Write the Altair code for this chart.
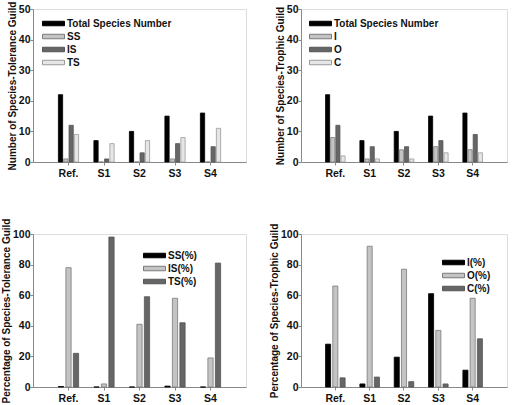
import altair as alt
import pandas as pd

categories = ["Ref.", "S1", "S2", "S3", "S4"]

# Panel A: number of species by tolerance guild
tol_names = ["Total Species Number", "SS", "IS", "TS"]
tol_total = [22, 7, 10, 15, 16]
tol_ss = [1, 0, 0, 1, 0]
tol_is = [12, 1, 3, 6, 5]
tol_ts = [9, 6, 7, 8, 11]

# Panel B: number of species by trophic guild
tro_names = ["Total Species Number", "I", "O", "C"]
tro_total = [22, 7, 10, 15, 16]
tro_i = [8, 1, 4, 5, 4]
tro_o = [12, 5, 5, 7, 9]
tro_c = [2, 1, 1, 3, 3]

# Panel C: percentage by tolerance guild
tolp_names = ["SS(%)", "IS(%)", "TS(%)"]
tolp_ss = [0.3, 0, 0, 0.6, 0]
tolp_is = [78, 2, 41, 58, 19]
tolp_ts = [22, 98, 59, 42, 81]

# Panel D: percentage by trophic guild
trop_names = ["I(%)", "O(%)", "C(%)"]
trop_i = [28, 2, 19.5, 61, 11]
trop_o = [66, 92, 77, 37, 58]
trop_c = [6, 6.5, 3.5, 2, 31.5]

BLACK = "#000000"
LIGHT = "#c4c4c4"
DARK = "#666666"
PALE = "#e6e6e6"
FONT = "Liberation Sans"


def make_df(names, lists):
    rows = []
    for name, vals in zip(names, lists):
        for c, v in zip(categories, vals):
            rows.append({"cat": c, "series": name, "value": v})
    return pd.DataFrame(rows)


BAR_PATH = "M-2.2,-0.45H2.2V0.45H-2.2Z"


def panel(df, names, fills, strokes, ytitle, ymax, ystep, width, height,
          lx, ly, n_series):
    leg = alt.Legend(
        orient="none", legendX=lx, legendY=ly, title=None,
        symbolType=BAR_PATH, symbolSize=100, symbolStrokeWidth=1,
        labelFont=FONT, labelFontSize=10, labelFontWeight="bold",
        labelColor="#111111", labelOffset=8, rowPadding=2,
    )
    inner = 0.2 if n_series == 4 else 0.3
    return alt.Chart(df).mark_bar(strokeWidth=0.8).encode(
        x=alt.X("cat:N", sort=categories, title=None,
                scale=alt.Scale(paddingInner=0.43, paddingOuter=0.715),
                axis=alt.Axis(labelAngle=0, labelFont=FONT, labelFontSize=10.5,
                              labelFontWeight="bold", labelColor="#111111",
                              tickSize=3, tickColor="#888888",
                              domainColor="#888888", labelPadding=3,
                              grid=False)),
        xOffset=alt.XOffset("series:N", sort=names,
                            scale=alt.Scale(domain=names, paddingInner=inner)),
        y=alt.Y("value:Q", scale=alt.Scale(domain=[0, ymax], nice=False),
                axis=alt.Axis(values=list(range(0, ymax + 1, ystep)),
                              title=ytitle, titleFont=FONT, titleFontSize=10,
                              titleFontWeight="bold", titleColor="#111111",
                              titlePadding=1,
                              labelFont=FONT, labelFontSize=10.5,
                              labelFontWeight="bold", labelColor="#111111",
                              tickSize=3, tickColor="#888888",
                              domainColor="#888888", labelPadding=0,
                              grid=False)),
        fill=alt.Fill("series:N", sort=names,
                      scale=alt.Scale(domain=names, range=fills), legend=leg),
        stroke=alt.Stroke("series:N", sort=names,
                          scale=alt.Scale(domain=names, range=strokes),
                          legend=leg),
    ).properties(width=width, height=height)


pA = panel(make_df(tol_names, [tol_total, tol_ss, tol_is, tol_ts]), tol_names,
           [BLACK, LIGHT, DARK, PALE], ["#000000", "#7a7a7a", "#555555", "#9a9a9a"],
           "Number of Species-Tolerance Guild", 50, 10, 213, 153, 15, 9, 4)
pB = panel(make_df(tro_names, [tro_total, tro_i, tro_o, tro_c]), tro_names,
           [BLACK, LIGHT, DARK, PALE], ["#000000", "#7a7a7a", "#555555", "#9a9a9a"],
           "Number of Species-Trophic Guild", 50, 10, 206, 153, 14, 9, 4)
pC = panel(make_df(tolp_names, [tolp_ss, tolp_is, tolp_ts]), tolp_names,
           [BLACK, LIGHT, DARK], ["#000000", "#7a7a7a", "#555555"],
           "Percentage of Species-Tolerance Guild", 100, 20, 213, 153, 116, 16, 3)
pD = panel(make_df(trop_names, [trop_i, trop_o, trop_c]), trop_names,
           [BLACK, LIGHT, DARK], ["#000000", "#7a7a7a", "#555555"],
           "Percentage of Species-Trophic Guild", 100, 20, 206, 153, 147, 23, 3)

chart = alt.concat(pA, pB, pC, pD, columns=2, spacing={"row": 72, "column": 55},
                   bounds="flush").resolve_scale(
    x="independent", y="independent", xOffset="independent",
    fill="independent", stroke="independent",
).resolve_legend(fill="independent", stroke="independent").properties(
    padding={"left": 0, "top": 0, "right": 5, "bottom": 0}
).configure_view(stroke="#8c8c8c", strokeWidth=1).configure(background="white")

chart.save("out.html", embed_options={"renderer": "svg", "actions": False})
